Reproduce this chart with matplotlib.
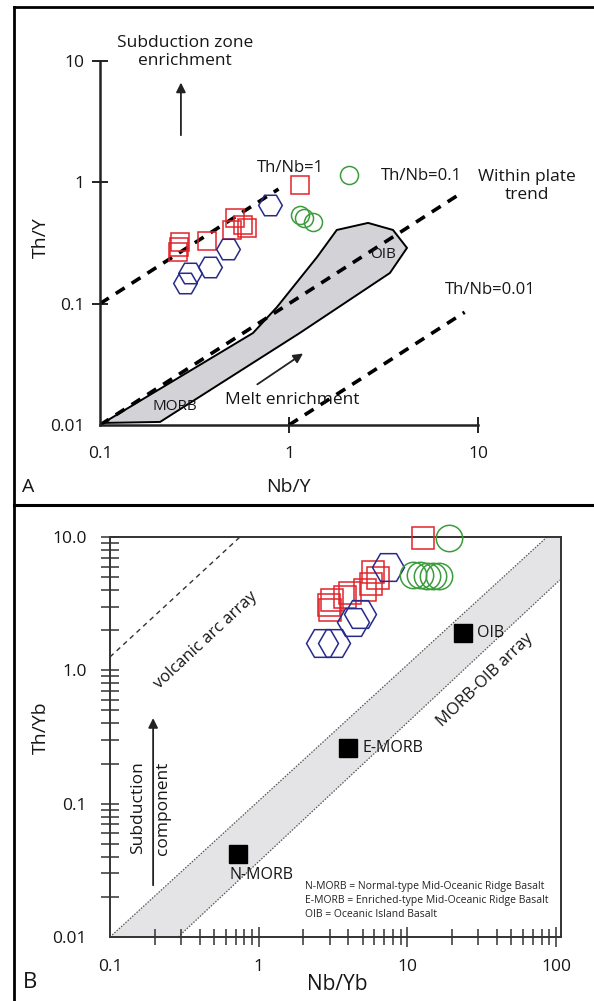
import numpy as np
import matplotlib.pyplot as plt
from matplotlib.lines import Line2D
from matplotlib.ticker import NullLocator, FixedLocator, FixedFormatter, LogLocator

plt.rcParams['font.family'] = ['Open Sans', 'DejaVu Sans']

# ---- panel A data (Nb/Y vs Th/Y) ----
a_sq_x = [0.262, 0.259, 0.265, 0.368, 0.518, 0.499, 0.571, 0.600, 1.14]
a_sq_y = [0.293, 0.267, 0.323, 0.329, 0.509, 0.405, 0.446, 0.420, 0.953]
a_hex_x = [0.79, 0.475, 0.382, 0.300, 0.282]
a_hex_y = [0.652, 0.282, 0.201, 0.179, 0.148]
a_ci_x = [2.08, 1.14, 1.20, 1.34]
a_ci_y = [1.15, 0.539, 0.508, 0.470]

# MORB-OIB field outline
field_x = [0.104, 0.645, 0.865, 1.41, 1.79, 2.62, 3.55, 4.21, 3.42, 1.14, 0.208]
field_y = [0.0104, 0.0573, 0.094, 0.243, 0.405, 0.463, 0.405, 0.288, 0.179, 0.0573, 0.0106]

# Th/Nb reference lines: ratio, x start, x end
thnb_ratio = [1.0, 0.1, 0.01]
thnb_x0 = [0.1, 0.1, 1.0]
thnb_x1 = [0.88, 8.0, 8.5]

# ---- panel B data (Nb/Yb vs Th/Yb) ----
b_sq_x = [12.7, 5.87, 6.34, 5.69, 5.19, 4.11, 3.11, 2.97, 3.02, 3.80]
b_sq_y = [9.83, 5.46, 4.92, 4.44, 4.00, 3.80, 3.37, 3.09, 2.83, 3.55]
b_hex_x = [7.41, 4.80, 4.31, 2.67, 3.21]
b_hex_y = [5.96, 2.64, 2.30, 1.60, 1.60]
b_ci_x = [19.0, 10.9, 12.1, 13.5, 14.9, 16.4]
b_ci_y = [9.83, 5.19, 5.19, 5.10, 5.10, 5.10]

ref_names = ['N-MORB', 'E-MORB', 'OIB']
ref_x = [0.726, 3.98, 23.7]
ref_y = [0.0419, 0.261, 1.90]

band_up_x = [0.1, 86.9]
band_up_y = [0.01, 10.0]
band_lo_x = [0.287, 106.0]
band_lo_y = [0.01, 4.76]
arc_x = [0.1, 0.748]
arc_y = [1.26, 10.0]

red = '#e0242b'
navy = '#272a8a'
green = '#3c9c3c'
ink = '#161616'

W, H = 594, 1001
fig = plt.figure(figsize=(W / 100, H / 100), dpi=100)


def box(l, t, r, b):
    return [l / W, 1 - b / H, (r - l) / W, (b - t) / H]


# ================= panel A =================
axA = fig.add_axes(box(100, 61, 478, 425))
axA.set_xscale('log')
axA.set_yscale('log')
axA.set_xlim(0.1, 10)
axA.set_ylim(0.01, 10)
for s in ['top', 'right']:
    axA.spines[s].set_visible(False)
for s in ['left', 'bottom']:
    axA.spines[s].set_linewidth(1.8)
    axA.spines[s].set_color('#222222')

axA.fill(field_x, field_y, facecolor='#d3d3d7', edgecolor='black', lw=1.4, zorder=1)

for r, x0, x1 in zip(thnb_ratio, thnb_x0, thnb_x1):
    xs = np.array([x0, x1])
    axA.plot(xs, r * xs, color='black', lw=2.6, dashes=(2.9, 2.3), zorder=2)

axA.plot(a_sq_x, a_sq_y, ls='none', marker='s', ms=13.5, mfc='none', mec=red, mew=1.1, zorder=3)
axA.plot(a_hex_x, a_hex_y, ls='none', marker='H', ms=17, mfc='none', mec=navy, mew=1.1, zorder=3)
axA.plot(a_ci_x, a_ci_y, ls='none', marker='o', ms=13, mfc='none', mec=green, mew=1.1, zorder=3)

axA.xaxis.set_major_locator(FixedLocator([0.1, 1, 10]))
axA.xaxis.set_major_formatter(FixedFormatter(['0.1', '1', '10']))
axA.yaxis.set_major_locator(FixedLocator([0.01, 0.1, 1, 10]))
axA.yaxis.set_major_formatter(FixedFormatter(['0.01', '0.1', '1', '10']))
axA.xaxis.set_minor_locator(NullLocator())
axA.yaxis.set_minor_locator(NullLocator())
axA.tick_params(axis='both', which='major', direction='inout', length=12, width=1.4,
                labelsize=12.5, colors='#222222', labelcolor=ink)
axA.tick_params(axis='y', pad=5)
axA.tick_params(axis='x', pad=9)
axA.xaxis.get_major_ticks()[0].tick1line.set_visible(False)
axA.yaxis.get_major_ticks()[0].tick1line.set_visible(False)

tk = dict(color=ink, ha='center', va='center')
arw = dict(arrowstyle='-|>', color='#222222', lw=1.3, mutation_scale=14)
axA.text(0.282, 11.9, 'Subduction zone\nenrichment', fontsize=12.5, linespacing=1.15, **tk)
axA.annotate('', xy=(0.268, 7.0), xytext=(0.268, 2.32), arrowprops=arw)
axA.text(1.02, 1.31, 'Th/Nb=1', fontsize=12, **tk)
axA.text(4.99, 1.13, 'Th/Nb=0.1', fontsize=12, **tk)
axA.text(18.2, 0.93, 'Within plate\ntrend', fontsize=12.5, linespacing=1.15, **tk)
axA.annotate('', xy=(12.0, 0.818), xytext=(6.45, 0.43), arrowprops=arw)
axA.text(3.14, 0.252, 'OIB', fontsize=11, **tk)
axA.text(11.6, 0.130, 'Th/Nb=0.01', fontsize=12, **tk)
axA.text(1.04, 0.016, 'Melt enrichment', fontsize=12.5, **tk)
axA.annotate('', xy=(1.22, 0.040), xytext=(0.661, 0.021), arrowprops=arw)
axA.text(0.249, 0.0141, 'MORB', fontsize=11, **tk)

fig.text(288 / W, 1 - 487 / H, 'Nb/Y', fontsize=14, ha='center', va='center', color=ink)
fig.text(41 / W, 1 - 238 / H, 'Th/Y', fontsize=14, ha='center', va='center', rotation=90,
         color=ink)
fig.text(28 / W, 1 - 487 / H, 'A', fontsize=14, ha='center', va='center', color=ink)

# ================= panel B =================
axB = fig.add_axes(box(110, 537, 561, 937))
axB.set_xscale('log')
axB.set_yscale('log')
axB.set_xlim(0.1, 108)
axB.set_ylim(0.01, 10)
for s in axB.spines.values():
    s.set_linewidth(1.4)
    s.set_color('#333333')

axB.fill(band_up_x + [108, 108] + band_lo_x[::-1],
         band_up_y + [10, band_lo_y[1]] + band_lo_y[::-1],
         facecolor='#e4e4e6', edgecolor='none', zorder=0)
axB.plot(band_up_x, band_up_y, color='#555555', lw=0.9, dashes=(1.2, 1.2), zorder=1)
axB.plot(band_lo_x, band_lo_y, color='#555555', lw=0.9, dashes=(1.2, 1.2), zorder=1)
axB.plot(arc_x, arc_y, color='#333333', lw=1.0, dashes=(3.5, 3), zorder=1)

axB.plot(b_sq_x, b_sq_y, ls='none', marker='s', ms=16, mfc='none', mec=red, mew=1.1,
         zorder=3, clip_on=False)
axB.plot(b_hex_x, b_hex_y, ls='none', marker='H', ms=23, mfc='none', mec=navy, mew=1.1, zorder=3)
axB.plot(b_ci_x, b_ci_y, ls='none', marker='o', ms=19, mfc='none', mec=green, mew=1.1,
         zorder=3, clip_on=False)
axB.plot(ref_x, ref_y, ls='none', marker='s', ms=12.5, color='black', zorder=3)

axB.xaxis.set_major_locator(FixedLocator([0.1, 1, 10, 100]))
axB.xaxis.set_major_formatter(FixedFormatter(['0.1', '1', '10', '100']))
axB.yaxis.set_major_locator(FixedLocator([0.01, 0.1, 1, 10]))
axB.yaxis.set_major_formatter(FixedFormatter(['0.01', '0.1', '1.0', '10.0']))
axB.xaxis.set_minor_locator(LogLocator(base=10, subs=np.arange(2, 10)))
axB.yaxis.set_minor_locator(LogLocator(base=10, subs=np.arange(2, 10)))
axB.tick_params(axis='both', which='both', direction='inout', width=1.1, colors='#333333',
                labelsize=12.5, labelcolor=ink)
axB.tick_params(axis='y', which='both', length=13, pad=10)
axB.tick_params(axis='x', which='major', length=15, pad=8)
axB.tick_params(axis='x', which='minor', length=11)
axB.xaxis.get_major_ticks()[0].tick1line.set_visible(False)
axB.yaxis.get_major_ticks()[0].tick1line.set_visible(False)

axB.text(0.44, 1.69, 'volcanic arc array', fontsize=12, rotation=43, **tk)
axB.text(33.3, 0.846, 'MORB-OIB array', fontsize=12, rotation=44, **tk)
axB.text(0.154, 0.0927, 'Subduction', fontsize=12.5, rotation=90, **tk)
axB.text(0.227, 0.0927, 'component', fontsize=12.5, rotation=90, **tk)
axB.annotate('', xy=(0.195, 0.46), xytext=(0.195, 0.0233), arrowprops=arw)
for name, x, y in zip(ref_names, ref_x, ref_y):
    if name == 'N-MORB':
        axB.text(0.641, 0.0291, name, fontsize=11.5, ha='left', va='center', color=ink)
    else:
        axB.text(x * 1.25, y, name, fontsize=11.5, ha='left', va='center', color=ink)

axB.text(2.05, 0.0265, 'N-MORB = Normal-type Mid-Oceanic Ridge Basalt\n'
         'E-MORB = Enriched-type Mid-Oceanic Ridge Basalt\n'
         'OIB = Oceanic Island Basalt',
         fontsize=7.5, linespacing=1.4, ha='left', va='top', color='#222222')

fig.text(337 / W, 1 - 985 / H, 'Nb/Yb', fontsize=15, ha='center', va='center', color=ink)
fig.text(41 / W, 1 - 728 / H, 'Th/Yb', fontsize=14, ha='center', va='center', rotation=90,
         color=ink)
fig.text(30 / W, 1 - 983 / H, 'B', fontsize=16, ha='center', va='center', color=ink)

# frame lines around the figure panels
fig.add_artist(Line2D([14 / W, 14 / W], [0, 1 - 7 / H], color='black', lw=2))
fig.add_artist(Line2D([14 / W, 1], [1 - 7 / H, 1 - 7 / H], color='black', lw=2))
fig.add_artist(Line2D([14 / W, 1], [1 - 505 / H, 1 - 505 / H], color='black', lw=2.2))

fig.savefig('out.png', dpi=100, facecolor='white')
